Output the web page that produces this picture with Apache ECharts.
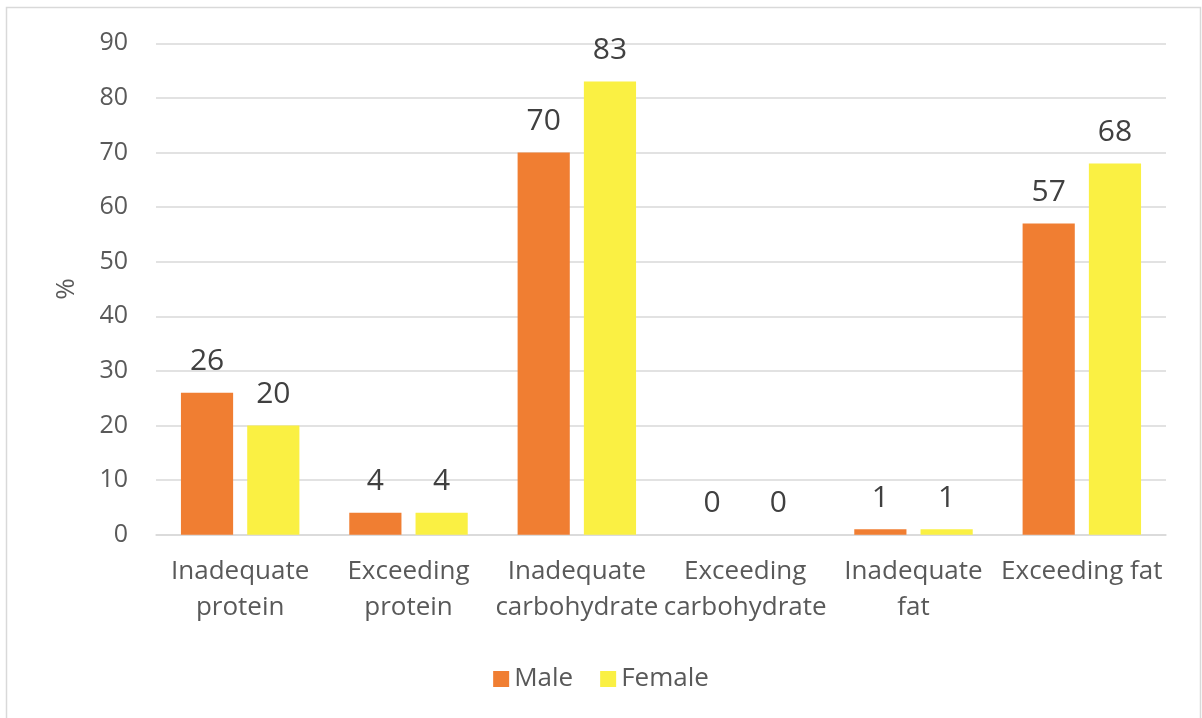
<!DOCTYPE html>
<html><head><meta charset="utf-8">
<script src="https://cdn.jsdelivr.net/npm/echarts@6/dist/echarts.min.js"></script>
<style>html,body{margin:0;padding:0;background:#fff}#c{width:1202px;height:718px}</style>
</head><body><div id="c"></div>
<script>
const categories = ["Inadequate\nprotein","Exceeding\nprotein","Inadequate\ncarbohydrate","Exceeding\ncarbohydrate","Inadequate\nfat","Exceeding fat"];
const male = [26, 4, 70, 0, 1, 57];
const female = [20, 4, 83, 0, 1, 68];
const yTicks = {min: 0, max: 90, interval: 10};
const FONT = "Open Sans";
const chart = echarts.init(document.getElementById('c'));
const lbl = {show: true, position: 'top', distance: 16, fontSize: 30, color: '#404040', fontFamily: FONT};
chart.setOption({
  animation: false,
  textStyle: {fontFamily: FONT},
  graphic: [{type: 'rect', shape: {x: 6.5, y: 7.5, width: 1194, height: 720}, style: {fill: 'none', stroke: '#d9d9d9', lineWidth: 1.5}, silent: true}],
  grid: {left: 156, right: 36, top: 43.3, bottom: 183.3, containLabel: false},
  legend: {
    data: ['Male', 'Female'], top: 661, left: 'center', itemWidth: 16, itemHeight: 16, itemGap: 27,
    textStyle: {fontSize: 26, color: '#595959', fontFamily: FONT}, icon: 'rect'
  },
  xAxis: {
    type: 'category', data: categories,
    axisLine: {lineStyle: {color: '#d9d9d9', width: 1.5}}, axisTick: {show: false},
    axisLabel: {interval: 0, fontSize: 26, color: '#595959', lineHeight: 36, margin: 19, fontFamily: FONT}
  },
  yAxis: {
    type: 'value', min: yTicks.min, max: yTicks.max, interval: yTicks.interval,
    name: '%', nameLocation: 'middle', nameGap: 76, nameRotate: 90,
    nameTextStyle: {fontSize: 26, color: '#595959', fontFamily: FONT},
    axisLine: {show: false}, axisTick: {show: false},
    axisLabel: {fontSize: 25, color: '#595959', margin: 28, fontFamily: FONT},
    splitLine: {lineStyle: {color: '#d9d9d9', width: 1.5}}
  },
  series: [
    {name: 'Male', type: 'bar', data: male, barWidth: '31%', barGap: '27%', itemStyle: {color: '#F07E32'}, label: lbl},
    {name: 'Female', type: 'bar', data: female, barWidth: '31%', itemStyle: {color: '#FAF043'}, label: lbl}
  ]
});
</script></body></html>
